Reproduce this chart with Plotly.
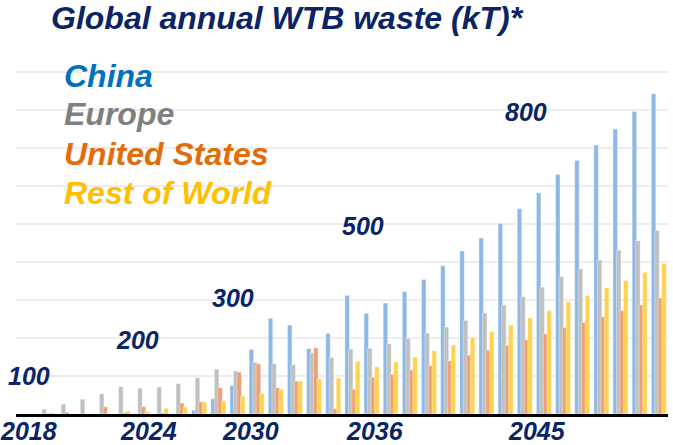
import plotly.graph_objects as go

years = list(range(2018, 2051))
china = [0, 0, 0, 0, 0, 0, 0, 0, 10, 40, 75, 170, 252, 234, 172, 212, 312, 265, 292, 322,
         354, 390, 429, 463, 501, 540, 582, 630, 667, 708, 750, 796, 843]
europe = [13, 26, 39, 53, 72, 68, 71, 80, 95, 118, 113, 136, 132, 130, 161, 149, 171, 173,
          185, 199, 213, 229, 246, 266, 287, 309, 334, 361, 382, 405, 431, 456, 483]
us = [2, 5, 0, 19, 3, 19, 3, 29, 32, 69, 110, 132, 69, 87, 174, 14, 65, 96, 104, 116, 127,
      140, 155, 168, 181, 195, 211, 228, 241, 256, 272, 287, 305]
row = [3, 0, 0, 0, 8, 7, 15, 18, 32, 34, 47, 54, 65, 87, 92, 95, 139, 124, 137, 150, 166,
       182, 201, 217, 234, 253, 272, 295, 312, 332, 351, 373, 396]

series_names = ["China", "Europe", "United States", "Rest of World"]
tick_labels = ["2018", "2024", "2030", "2036", "2045"]
level_labels = ["100", "200", "300", "500", "800"]

NAVY = "#0B2464"
bar_colors = {"China": "#8DB9E4", "Europe": "#C0C0C0", "United States": "#EDA172",
              "Rest of World": "#FFD24F"}
text_colors = {"China": "#0070C0", "Europe": "#808080", "United States": "#E36C0A",
               "Rest of World": "#FFC000"}

W, H = 673, 445
ML, MR, MT, MB = 16, 5, 40, 31
plot_w = W - ML - MR
plot_h = H - MT - MB
px_per_year = 19.15
x0 = 2018 - (46 - ML) / px_per_year
x1 = x0 + plot_w / px_per_year
px_per_unit = 0.38
y_top = plot_h / px_per_unit


def xp(px):
    return (px - ML) / plot_w


def yp(py):
    return (H - MB - py) / plot_h


bw = 0.235
centers = [-0.274, -0.091, 0.091, 0.274]
data = {"China": china, "Europe": europe, "United States": us, "Rest of World": row}

fig = go.Figure()
for i, name in enumerate(series_names):
    fig.add_trace(go.Bar(
        x=years, y=data[name], name=name,
        width=bw, offset=centers[i] - bw / 2,
        marker=dict(color=bar_colors[name], line=dict(color="rgba(255,255,255,0.45)", width=0.8)),
        showlegend=False,
    ))

ann = []
FONT = "Liberation Sans, Arial, sans-serif"
ann.append(dict(text="<b><i>Global annual WTB waste (kT)*</i></b>", xref="paper", yref="paper",
                x=xp(49), y=yp(17.5), xanchor="left", yanchor="middle",
                showarrow=False, font=dict(family=FONT, size=32, color=NAVY)))
leg_y = [76, 114, 154, 193]
for name, py in zip(series_names, leg_y):
    ann.append(dict(text=f"<b><i>{name}</i></b>", xref="paper", yref="paper", x=xp(62), y=yp(py),
                    xanchor="left", yanchor="middle", showarrow=False,
                    font=dict(family=FONT, size=32, color=text_colors[name])))
lvl_px = [29, 137, 233, 363, 526]
lvl_py = [376, 340, 298, 226, 112]
for t, px, py in zip(level_labels, lvl_px, lvl_py):
    ann.append(dict(text=f"<b><i>{t}</i></b>", xref="paper", yref="paper", x=xp(px), y=yp(py),
                    xanchor="center", yanchor="middle", showarrow=False,
                    font=dict(family=FONT, size=25, color=NAVY)))
tick_px = [28, 148, 251, 375, 537]
for t, px in zip(tick_labels, tick_px):
    ann.append(dict(text=f"<b><i>{t}</i></b>", xref="paper", yref="paper", x=xp(px), y=yp(431),
                    xanchor="center", yanchor="middle", showarrow=False,
                    font=dict(family=FONT, size=25, color=NAVY)))

fig.update_layout(
    width=W, height=H,
    margin=dict(l=ML, r=MR, t=MT, b=MB, pad=0),
    paper_bgcolor="white", plot_bgcolor="white",
    barmode="overlay",
    annotations=ann,
    xaxis=dict(range=[x0, x1], showticklabels=False, showgrid=False, zeroline=False,
               showline=True, linecolor="black", linewidth=3, ticks=""),
    yaxis=dict(range=[0, y_top], showticklabels=False, showgrid=True, gridcolor="#EDEDED",
               gridwidth=2, zeroline=False, dtick=100, tick0=0, ticks=""),
)

fig.write_html("out.html", config={"displayModeBar": False},
               post_script="document.body.style.margin='0px';document.body.style.overflow='hidden';")
